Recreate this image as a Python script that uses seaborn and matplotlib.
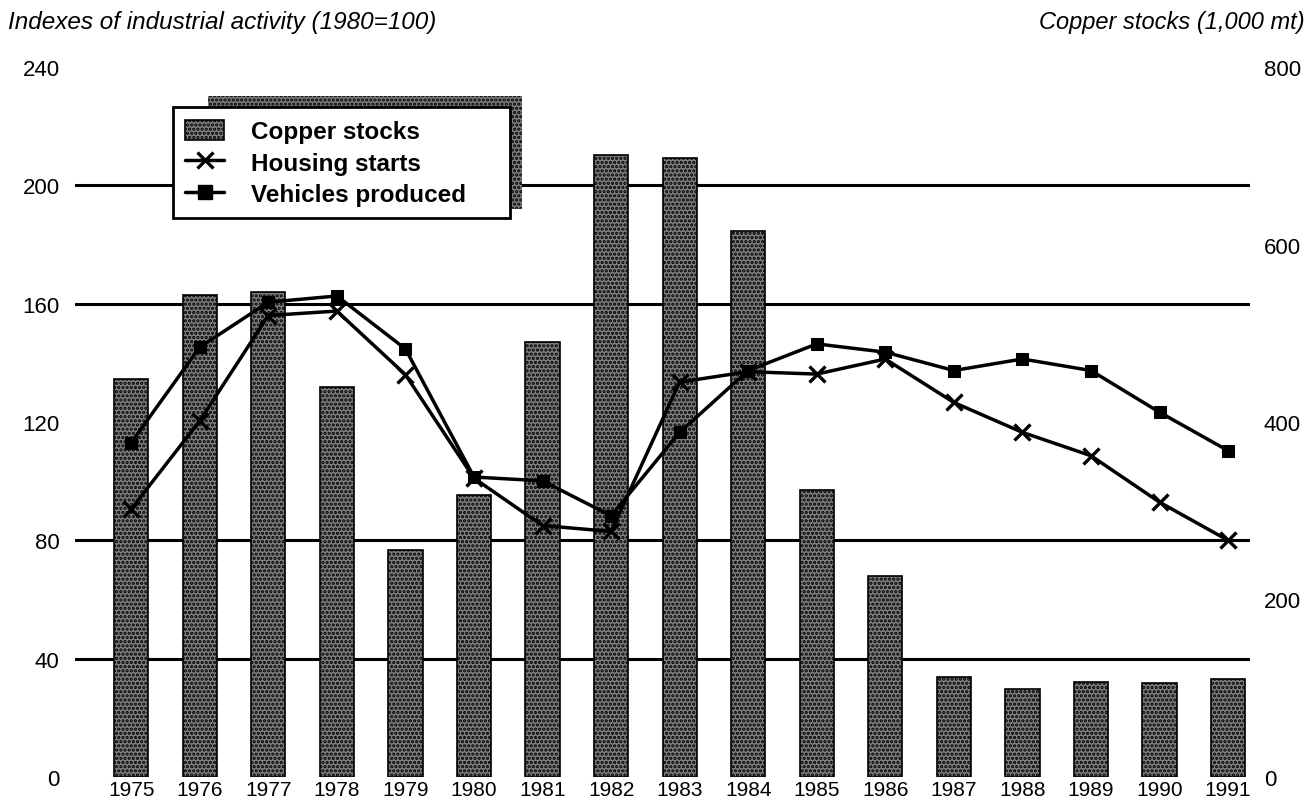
import numpy as np
import pandas as pd
import matplotlib
matplotlib.use("Agg")
import matplotlib.pyplot as plt
import seaborn as sns
from matplotlib.patches import Rectangle, Patch
from matplotlib.lines import Line2D

# ---- data ----
years = [str(y) for y in range(1975, 1992)]
copper_stocks = [448, 543, 547, 439, 256, 318, 490, 701, 698, 615, 323, 227, 113, 99, 107, 106, 110]
housing_starts = [90.6, 120.4, 156.0, 157.5, 136.0, 101.0, 85.0, 83.0, 133.5, 137.0, 136.2, 141.3,
                  126.6, 116.5, 108.6, 92.9, 80.0]
vehicles_produced = [113.0, 145.3, 160.5, 162.6, 144.7, 101.4, 100.1, 88.3, 116.5, 137.4, 146.4, 143.6,
                     137.4, 141.3, 137.4, 123.3, 110.3]
left_ticks = [0, 40, 80, 120, 160, 200, 240]
right_ticks = [0, 200, 400, 600, 800]
left_max, right_max = 240, 800

sns.set_theme(style="white")
plt.rcParams["font.family"] = ["Liberation Sans", "DejaVu Sans"]
plt.rcParams["hatch.linewidth"] = 1.6
plt.rcParams["text.color"] = "black"

BAR = "#808080"
HATCH = "...."

df = pd.DataFrame({
    "year": years,
    "pos": np.arange(len(years)),
    "copper": copper_stocks,
    "housing": housing_starts,
    "vehicles": vehicles_produced,
})

fig = plt.figure(figsize=(13.09, 8.03), dpi=100)
ax = fig.add_axes([75 / 1309, 1 - 778 / 803, 1175 / 1309, 710 / 803])

# bars on the primary axis (copper scale, labelled on the right)
sns.barplot(data=df, x="year", y="copper", ax=ax, color=BAR, saturation=1,
            width=0.5, edgecolor="black", linewidth=1.2, hatch=HATCH)
ax.set_ylim(0, right_max)

# lines on the twin axis (index scale, labelled on the left)
ax2 = ax.twinx()
sns.lineplot(data=df, x="pos", y="housing", ax=ax2, color="black", lw=2.5,
             marker="x", markersize=12, markeredgewidth=2.4, markeredgecolor="black")
sns.lineplot(data=df, x="pos", y="vehicles", ax=ax2, color="black", lw=2.5,
             marker="s", markersize=9, markeredgecolor="black", markerfacecolor="black")
ax2.set_ylim(0, left_max)

# axis sides
ax.yaxis.tick_right()
ax2.yaxis.tick_left()
ax.set_yticks(right_ticks)
ax.set_yticklabels([str(t) for t in right_ticks])
ax.set_yticks([t * right_max / left_max for t in left_ticks], minor=True)
ax.yaxis.grid(False, which="major")
ax.yaxis.grid(True, which="minor", color="black", lw=2.2)
ax.xaxis.grid(False)
ax.set_axisbelow(True)
ax2.set_yticks(left_ticks)
ax2.set_yticklabels([str(t) for t in left_ticks])
ax2.grid(False)

ax.set_xlim(-0.82, 16.32)
ax.set_xticks(range(len(years)))
ax.set_xticklabels(years)

for a in (ax, ax2):
    for s in a.spines.values():
        s.set_visible(False)
    a.set_xlabel("")
    a.set_ylabel("")
ax.tick_params(axis="y", which="both", length=0, pad=10, labelsize=16, colors="black")
ax.tick_params(axis="x", length=0, pad=2, labelsize=15, colors="black")
ax2.tick_params(axis="y", length=0, pad=11, labelsize=16, colors="black")

# legend with stippled offset shadow
handles = [
    Patch(facecolor=BAR, edgecolor="black", linewidth=1.2, hatch=HATCH),
    Line2D([], [], color="black", lw=2.5, marker="x", markersize=12, markeredgewidth=2.4),
    Line2D([], [], color="black", lw=2.5, marker="s", markersize=10),
]
labels = ["Copper stocks", "Housing starts", "Vehicles produced"]
leg = ax2.legend(handles, labels, loc="upper left",
                 bbox_to_anchor=(0.0834, 0.0, 0.287, 0.943), mode="expand",
                 borderaxespad=0, frameon=True, fancybox=False, edgecolor="black",
                 facecolor="white", framealpha=1, prop={"weight": "bold", "size": 17.5},
                 handlelength=1.6, handleheight=0.9, handletextpad=1.1, borderpad=0.5,
                 labelspacing=0.33, labelcolor="black")
leg.get_frame().set_linewidth(2)
leg.set_zorder(6)
ax2.add_patch(Rectangle((0.1132, 0.80), 0.2672, 0.159, transform=ax2.transAxes,
                        facecolor=BAR, hatch=HATCH, edgecolor="black", linewidth=0,
                        zorder=5, clip_on=False))

fig.text(8 / 1309, 1 - 22 / 803, "Indexes of industrial activity (1980=100)",
         style="italic", fontsize=17.5, ha="left", va="center", color="black")
fig.text(1305 / 1309, 1 - 22 / 803, "Copper stocks (1,000 mt)",
         style="italic", fontsize=17, ha="right", va="center", color="black")

fig.savefig("out.png", dpi=100)
